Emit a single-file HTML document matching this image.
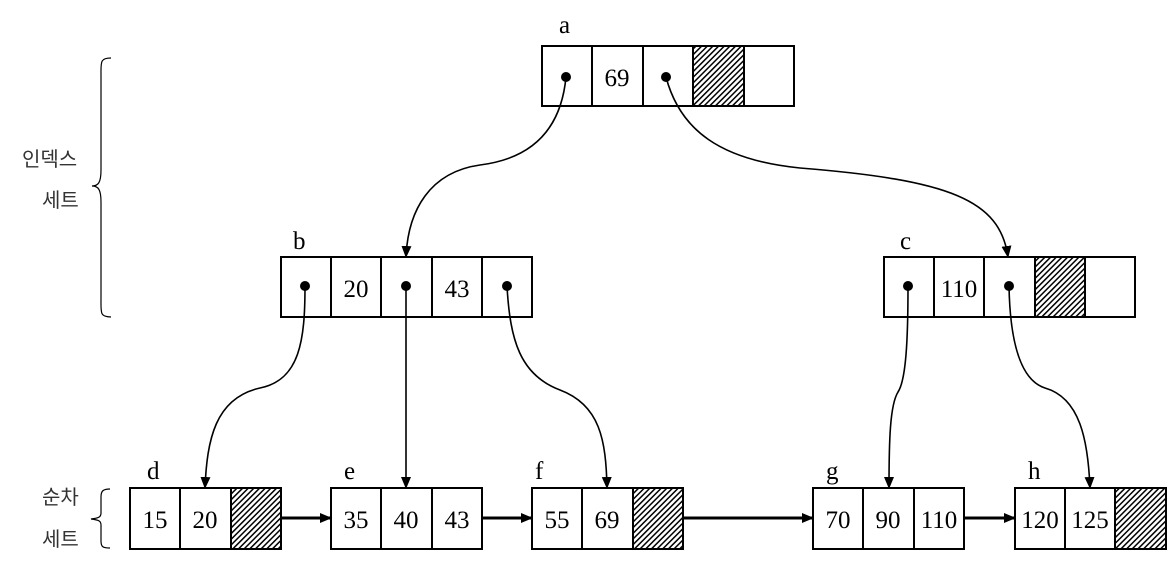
<!DOCTYPE html>
<html><head><meta charset="utf-8"><style>
html,body{margin:0;padding:0;background:#fff;width:1169px;height:562px;overflow:hidden}
svg text{font-family:"Liberation Serif",serif;font-size:25px;fill:#000}
svg text.k{font-family:"Liberation Sans","Noto Sans CJK KR",sans-serif;font-size:20px;fill:#333}
</style></head><body>
<svg width="1169" height="562" xmlns="http://www.w3.org/2000/svg">
<defs>
<pattern id="h" width="4" height="4" patternUnits="userSpaceOnUse" patternTransform="rotate(45)">
<rect width="4" height="4" fill="#fff"/><rect width="1.5" height="4" fill="#000"/></pattern>
<marker id="ar" markerWidth="12" markerHeight="12" refX="11" refY="6" orient="auto" markerUnits="userSpaceOnUse">
<path d="M0,1 L12,6 L0,11 z" fill="#000"/></marker>
</defs>
<g fill="none" stroke="#000" stroke-width="2">
<rect x="542" y="46" width="252" height="60" fill="#fff"/>
<rect x="693" y="46" width="51" height="60" fill="url(#h)"/>
<path d="M592,46V106M643,46V106M693,46V106M744,46V106"/>
<rect x="281" y="257" width="251" height="60"/>
<path d="M331,257V317M381,257V317M432,257V317M482,257V317"/>
<rect x="884" y="257" width="251" height="60"/>
<rect x="1035" y="257" width="50" height="60" fill="url(#h)"/>
<path d="M934,257V317M984,257V317M1035,257V317M1085,257V317"/>
<rect x="130" y="488" width="151" height="61"/>
<rect x="231" y="488" width="50" height="61" fill="url(#h)"/>
<path d="M180,488V549"/>
<rect x="331" y="488" width="151" height="61"/>
<path d="M381,488V549M432,488V549"/>
<rect x="532" y="488" width="151" height="61"/>
<rect x="633" y="488" width="50" height="61" fill="url(#h)"/>
<path d="M582,488V549"/>
<rect x="813" y="488" width="151" height="61"/>
<path d="M863,488V549M914,488V549"/>
<rect x="1015" y="488" width="151" height="61"/>
<rect x="1115" y="488" width="51" height="61" fill="url(#h)"/>
<path d="M1065,488V549"/>
</g>
<g fill="none" stroke="#000" stroke-width="1.6">
<path d="M566,77 C560,140 520,160 480,165 C430,172 408,210 406,257" marker-end="url(#ar)"/>
<path d="M666,77 C680,130 720,160 800,168 C950,180 1000,200 1008,257" marker-end="url(#ar)"/>
<path d="M305,286 C305,340 300,380 260,388 C215,398 207,440 205,488" marker-end="url(#ar)"/>
<path d="M406,286 L406,488" marker-end="url(#ar)"/>
<path d="M507,286 C510,340 520,375 560,390 C600,405 606,440 607,488" marker-end="url(#ar)"/>
<path d="M908,286 C908,340 906,380 898,392 C890,405 889,440 889,488" marker-end="url(#ar)"/>
<path d="M1009,286 C1010,340 1020,380 1045,388 C1080,398 1088,440 1090,488" marker-end="url(#ar)"/>
</g>
<g stroke="#000" stroke-width="3" fill="none">
<path d="M282,518H331" marker-end="url(#ar)"/>
<path d="M483,518H532" marker-end="url(#ar)"/>
<path d="M684,518H813" marker-end="url(#ar)"/>
<path d="M965,518H1015" marker-end="url(#ar)"/>
</g>
<g stroke="#000" stroke-width="1.2" fill="none">
<path d="M111,58 C100,58 101,62 101,75 L101,170 C101,183 98,186 92,186 C98,186 101,189 101,202 L101,300 C101,313 100,317 111,317"/>
<path d="M110,489 C103,489 101,491 101,497 L101,513 C101,517 99,518 91,519 C99,520 101,521 101,525 L101,541 C101,547 103,548 110,548"/>
</g>
<g fill="#000">
<circle cx="566" cy="77" r="5"/><circle cx="666" cy="77" r="5"/>
<circle cx="305" cy="286" r="5"/><circle cx="406" cy="286" r="5"/><circle cx="507" cy="286" r="5"/>
<circle cx="908" cy="286" r="5"/><circle cx="1009" cy="286" r="5"/>
</g>
<g text-anchor="middle">
<text x="617" y="86">69</text>
<text x="356" y="297">20</text><text x="457" y="297">43</text>
<text x="959" y="297">110</text>
<text x="155" y="528">15</text><text x="205" y="528">20</text>
<text x="356" y="528">35</text><text x="406" y="528">40</text><text x="457" y="528">43</text>
<text x="557" y="528">55</text><text x="607" y="528">69</text>
<text x="838" y="528">70</text><text x="888" y="528">90</text><text x="939" y="528">110</text>
<text x="1040" y="528">120</text><text x="1090" y="528">125</text>
</g>
<g>
<text x="559" y="33">a</text><text x="293" y="249">b</text><text x="900" y="249">c</text>
<text x="147" y="479">d</text><text x="344" y="479">e</text><text x="535" y="479">f</text>
<text x="826" y="479">g</text><text x="1028" y="479">h</text>
</g>
<text class="k" x="22" y="166">인덱스</text>
<text class="k" x="42" y="207">세트</text>
<text class="k" x="42" y="504">순차</text>
<text class="k" x="42" y="546">세트</text>
</svg>
</body></html>
